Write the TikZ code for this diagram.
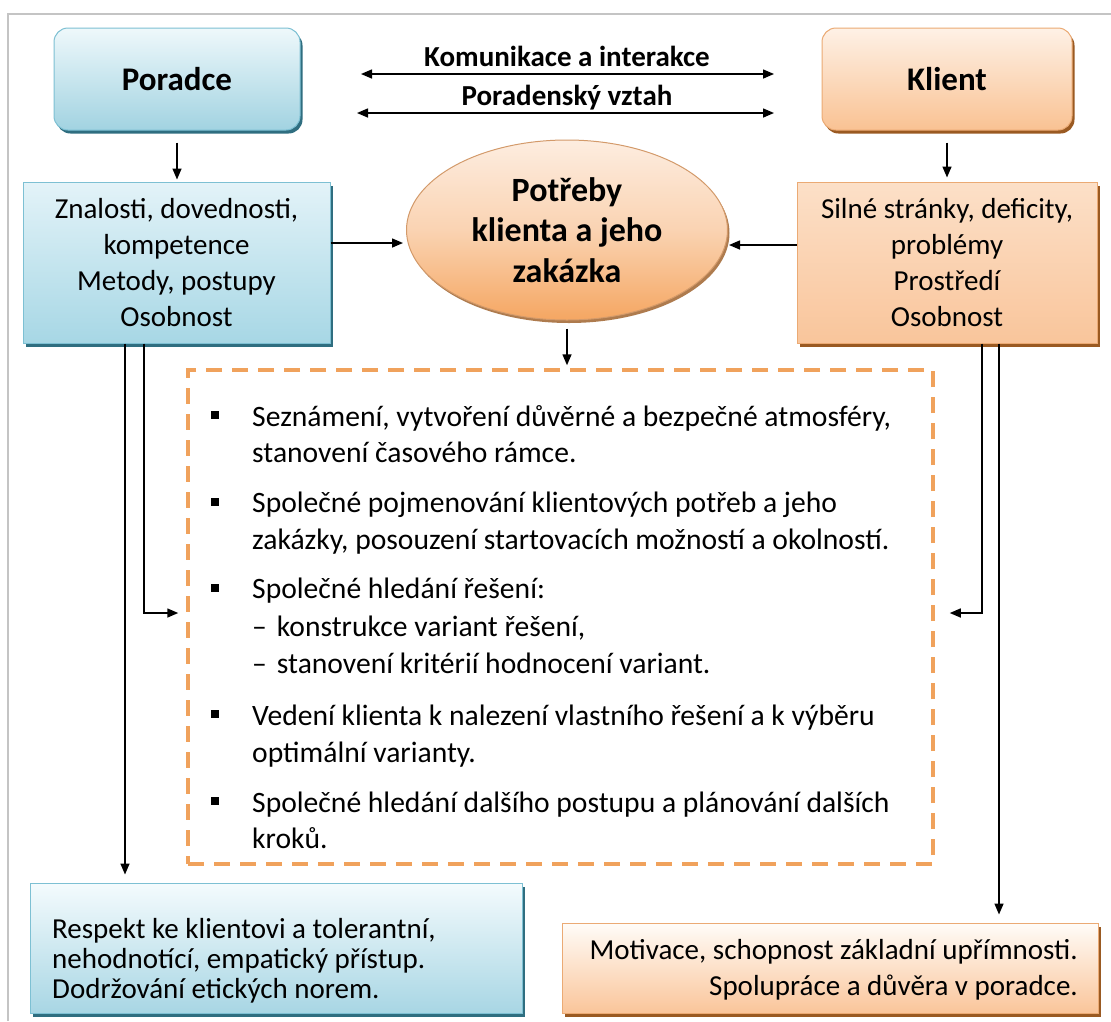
\documentclass[tikz,border=0pt]{standalone}
\usepackage{fontspec}
\setmainfont{Carlito}
\usetikzlibrary{arrows.meta,shapes.geometric,shadows}
\definecolor{bluetopA}{HTML}{EEF8FB}
\definecolor{bluebotA}{HTML}{A2D3E1}
\definecolor{bluetopB}{HTML}{E3F3F8}
\definecolor{bluebotB}{HTML}{A7D7E5}
\definecolor{bluetopC}{HTML}{F4FBFD}
\definecolor{bluebotC}{HTML}{A8D6E4}
\definecolor{blueline}{HTML}{7DC0D3}
\definecolor{blueshadow}{HTML}{2F6E80}
\definecolor{orgtopA}{HTML}{FEF1E6}
\definecolor{orgbotA}{HTML}{F9C293}
\definecolor{orgtopB}{HTML}{FCE0C8}
\definecolor{orgbotB}{HTML}{F9C59B}
\definecolor{orgtopC}{HTML}{FFFCF8}
\definecolor{orgbotC}{HTML}{FAC59A}
\definecolor{orgline}{HTML}{EBAA74}
\definecolor{orgshadow}{HTML}{9A5A22}
\definecolor{elltop}{HTML}{FDEDE0}
\definecolor{ellmid}{HTML}{FAD3B2}
\definecolor{ellbot}{HTML}{F5A662}
\definecolor{ellline}{HTML}{D39A6A}
\definecolor{dashorg}{HTML}{F0A25C}
\definecolor{framegray}{HTML}{C4C4C4}
\newcommand\mytightlines{\lineskiplimit=-50pt\relax}
\begin{document}
\begin{tikzpicture}[x=1pt,y=-1pt,
  blueshad/.style={general shadow={fill=blueshadow, shadow xshift=2.5pt, shadow yshift=-3.5pt}},
  orgshad/.style={general shadow={fill=orgshadow, shadow xshift=2.5pt, shadow yshift=-3.5pt}},
  headbox/.style={rounded corners=14pt, minimum height=102pt, line width=1pt,
    font=\fontsize{33}{40}\selectfont\bfseries},
  midbox/.style={minimum height=161pt, line width=1pt, align=center,
    font=\fontsize{29}{36}\selectfont},
  bluehead/.style={headbox, draw=blueline, top color=bluetopA, bottom color=bluebotA, blueshad},
  orghead/.style={headbox, draw=orgline, top color=orgtopA, bottom color=orgbotA, orgshad},
  bluemid/.style={midbox, draw=blueline, top color=bluetopB, bottom color=bluebotB, blueshad},
  orgmid/.style={midbox, draw=orgline, top color=orgtopB, bottom color=orgbotB, orgshad},
  bluelow/.style={line width=1pt, draw=blueline, top color=bluetopC, bottom color=bluebotC, blueshad},
  orglow/.style={line width=1pt, draw=orgline, top color=orgtopC, bottom color=orgbotC, orgshad},
  lowtext/.style={inner sep=0pt, font=\fontsize{29}{36}\selectfont},
  labeltxt/.style={anchor=base, inner sep=0pt, font=\fontsize{29}{34}\selectfont\bfseries},
  itm/.style={anchor=base west, inner sep=0pt, font=\fontsize{29.6}{36}\selectfont},
  bul/.style={fill=black, minimum size=8pt, inner sep=0pt},
  arr/.style={line width=1.5pt, -{Triangle[length=11pt,width=9pt]}},
  darr/.style={line width=1.5pt, {Triangle[length=11pt,width=9pt]}-{Triangle[length=11pt,width=9pt]}},
  procbox/.style={draw=dashorg, line width=3.5pt, dash pattern=on 16pt off 10pt, inner sep=0pt}
]
\useasboundingbox (0,0) rectangle (1111,1021);
\fill[white] (0,0) rectangle (1111,1021);

% frame
\draw[framegray, line width=1.5pt] (8,1021) -- (8,14) -- (1111,14);

% top boxes
\node[bluehead, minimum width=246pt] (poradce) at (177,79) {Poradce};
\node[orghead, minimum width=250pt] (klient) at (947,79) {Klient};

% labels and double arrows
\node[labeltxt] (lab1) at (567,66) {Komunikace a interakce};
\node[labeltxt] (lab2) at (567,105) {Poradenský vztah};
\coordinate (k1L) at (361,74);
\coordinate (k1R) at (774,74);
\coordinate (k2L) at (357,113);
\coordinate (k2R) at (774,113);
\draw[darr] (k1L) -- (k1R);
\draw[darr] (k2L) -- (k2R);

% middle boxes
\node[bluemid, minimum width=307pt] (leftbox) at (176.5,262.5)
  {Znalosti, dovednosti,\\kompetence\\Metody, postupy\\Osobnost};
\node[orgmid, minimum width=300pt] (rightbox) at (947,262.5)
  {Silné stránky, deficity,\\problémy\\Prostředí\\Osobnost};

% ellipse
\node[ellipse, draw=ellline, line width=1pt, top color=elltop, bottom color=ellbot, middle color=ellmid,
  general shadow={fill=orgshadow!80, shadow xshift=2pt, shadow yshift=-3pt},
  minimum width=321pt, minimum height=180pt, inner sep=0pt, align=center,
  font=\fontsize{34}{40.5}\selectfont\bfseries] (ell) at (567,230)
  {Potřeby\\klienta a jeho\\zakázka};

% dashed process box
\node[procbox, minimum width=745pt, minimum height=494pt] (proc) at (560.5,617) {};

\node[bul] (b1) at (215,415) {};
\node[bul] (b2) at (215,502) {};
\node[bul] (b3) at (215,588) {};
\node[bul] (b4) at (215,714) {};
\node[bul] (b5) at (215,801) {};

\node[itm] (t1) at (252,426) {Seznámení, vytvoření důvěrné a bezpečné atmosféry,};
\node[itm] (t2) at (252,462) {stanovení časového rámce.};
\node[itm] (t3) at (252,512) {Společné pojmenování klientových potřeb a jeho};
\node[itm] (t4) at (252,549) {zakázky, posouzení startovacích možností a okolností.};
\node[itm] (t5) at (252,598) {Společné hledání řešení:};
\node[itm] (t6) at (252,636) {–\hspace{10pt}konstrukce variant řešení,};
\node[itm] (t7) at (252,673) {–\hspace{10pt}stanovení kritérií hodnocení variant.};
\node[itm] (t8) at (252,725) {Vedení klienta k nalezení vlastního řešení a k výběru};
\node[itm] (t9) at (252,762) {optimální varianty.};
\node[itm] (t10) at (252,812) {Společné hledání dalšího postupu a plánování dalších};
\node[itm] (t11) at (252,848) {kroků.};

% bottom boxes
\node[bluelow, minimum width=492pt, minimum height=130pt] (bl) at (276,948) {};
\node[lowtext, anchor=west, align=left, font=\fontsize{29}{30}\selectfont\mytightlines] (blt) at (52,961)
  {Respekt ke klientovi a tolerantní,\\nehodnotící, empatický přístup.\\Dodržování etických norem.};
\node[orglow, minimum width=536pt, minimum height=90pt] (br) at (830,968) {};
\node[lowtext, anchor=east, align=right] (brt) at (1078,970)
  {Motivace, schopnost základní upřímnosti.\\Spolupráce a důvěra v poradce.};

% connectors
\coordinate (cL1) at (125,0);
\coordinate (cL2) at (144,0);
\coordinate (cR1) at (982,0);
\coordinate (cR2) at (999,0);
\coordinate (yM) at (0,613);
\coordinate (yE1) at (0,243);
\coordinate (yE2) at (0,245);

\draw[arr, shorten <=12pt, shorten >=2pt] (poradce.south) -- (poradce.south |- leftbox.north);
\draw[arr, shorten <=12pt, shorten >=4pt] (klient.south) -- (klient.south |- rightbox.north);
\draw[arr, shorten >=3pt] (leftbox.east |- yE1) -- (ell.west |- yE1);
\draw[arr, shorten >=1pt] (rightbox.west |- yE2) -- (ell.east |- yE2);
\draw[arr, shorten <=8pt, shorten >=3pt] (ell.south) -- (ell.south |- proc.north);

\draw[arr, shorten >=8pt] (leftbox.south -| cL1) -- (bl.north -| cL1);
\draw[arr, shorten >=8pt] (leftbox.south -| cL2) |- (proc.west |- yM);
\draw[arr, shorten >=15pt] (rightbox.south -| cR1) |- (proc.east |- yM);
\draw[arr, shorten >=8pt] (rightbox.south -| cR2) -- (br.north -| cR2);
\end{tikzpicture}
\end{document}
